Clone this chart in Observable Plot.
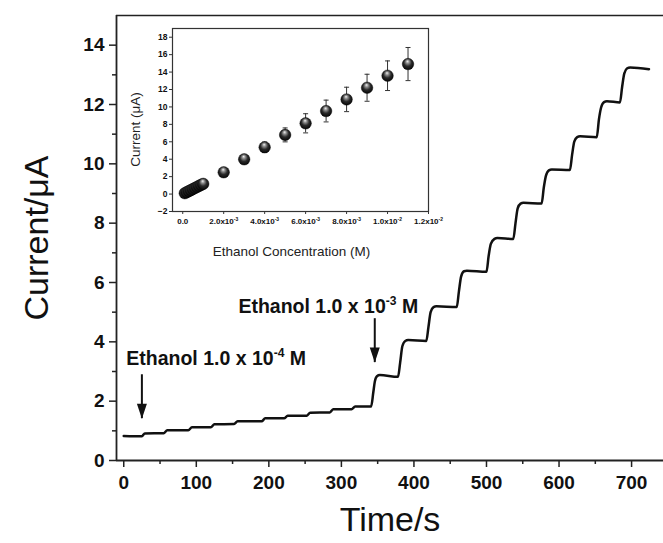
<!DOCTYPE html>
<html><head><meta charset="utf-8">
<script src="https://cdn.jsdelivr.net/npm/d3@7"></script>
<script src="https://cdn.jsdelivr.net/npm/@observablehq/plot@0.6"></script>
<style>
body{margin:0;background:#fff;}
#wrap{position:relative;width:663px;height:543px;overflow:hidden;}
#inset{position:absolute;left:100px;top:20px;}
</style></head><body><div id="wrap"><div id="main"></div><div id="inset"></div></div>
<script>
// ---- main amperometric trace (time in s, current in µA) ----
const timeS = [0, 25, 29, 55, 60, 89, 94, 120, 125, 152, 157, 190, 195, 221, 226, 252, 257, 284, 289, 314, 319, 341,
  344, 346, 349, 353, 378,
  381, 384, 388, 392, 417,
  420, 423, 427, 431, 459,
  462, 465, 469, 473, 500,
  503, 506, 511, 515, 537,
  540, 543, 547, 551, 576,
  579, 582, 586, 590, 615,
  618, 621, 625, 629, 652,
  655, 658, 662, 666, 684,
  687, 690, 694, 698, 724];
const currentUA = [0.83, 0.82, 0.91, 0.92, 1.02, 1.02, 1.12, 1.12, 1.22, 1.23, 1.32, 1.32, 1.42, 1.42, 1.51, 1.51, 1.61, 1.62, 1.73, 1.73, 1.82, 1.82,
  2.30, 2.65, 2.84, 2.88, 2.82,
  3.30, 3.85, 4.03, 4.06, 4.03,
  4.50, 5.00, 5.17, 5.20, 5.17,
  5.70, 6.20, 6.38, 6.40, 6.36,
  6.90, 7.30, 7.47, 7.50, 7.47,
  8.00, 8.50, 8.66, 8.69, 8.66,
  9.20, 9.60, 9.78, 9.81, 9.79,
  10.30, 10.75, 10.90, 10.93, 10.90,
  11.50, 11.90, 12.08, 12.11, 12.07,
  12.60, 13.05, 13.22, 13.25, 13.19];

const xMajorTicks = [0, 100, 200, 300, 400, 500, 600, 700];
const xMinorTicks = [50, 150, 250, 350, 450, 550, 650];
const yMajorTicks = [0, 2, 4, 6, 8, 10, 12, 14];
const yMinorTicks = [1, 3, 5, 7, 9, 11, 13];

// annotations (superscripts written with ^{...})
const annotationLabels = ["Ethanol 1.0 x 10^{-4} M", "Ethanol 1.0 x 10^{-3} M"];
const annotationT = [3.5, 158];
const annotationI = [3.43, 5.18];
const arrowT = [25, 346];
const arrowFromI = [2.89, 4.78];
const arrowToI = [1.41, 3.30];

// ---- inset: calibration ----
const insetConcM = [0.0001, 0.0002, 0.0003, 0.0004, 0.0005, 0.0006, 0.0007, 0.0008, 0.0009, 0.001,
  0.002, 0.003, 0.004, 0.005, 0.006, 0.007, 0.008, 0.009, 0.010, 0.011];
const insetCurrent = [0.10, 0.22, 0.34, 0.46, 0.58, 0.70, 0.82, 0.94, 1.06, 1.17,
  2.50, 3.99, 5.37, 6.79, 8.12, 9.53, 10.86, 12.20, 13.58, 14.92];
const insetError = [0.05, 0.05, 0.05, 0.05, 0.05, 0.05, 0.05, 0.05, 0.05, 0.05,
  0.20, 0.25, 0.60, 0.80, 1.10, 1.25, 1.40, 1.55, 1.70, 1.90];
const insetXTicks = [0, 0.002, 0.004, 0.006, 0.008, 0.010, 0.012];
const insetXTickLabels = ["0.0", "2.0x10^{-3}", "4.0x10^{-3}", "6.0x10^{-3}", "8.0x10^{-3}", "1.0x10^{-2}", "1.2x10^{-2}"];
const insetYTicks = [-2, 0, 2, 4, 6, 8, 10, 12, 14, 16, 18];

const FONT = '"Liberation Sans", Arial, Helvetica, sans-serif';
const INK = "#111";

const mainData = timeS.map((t, i) => ({t, I: currentUA[i]}));
const annData = annotationLabels.map((s, i) => ({s, t: annotationT[i], I: annotationI[i]}));
const arrowData = arrowT.map((t, i) => ({t, y1: arrowFromI[i], y2: arrowToI[i]}));
const arrowHead = {draw(ctx) { ctx.moveTo(0, 0); ctx.lineTo(-5, -15); ctx.lineTo(5, -15); ctx.closePath(); }};

const main = Plot.plot({
  width: 663, height: 543,
  marginLeft: 116, marginRight: 0, marginTop: 15, marginBottom: 83,
  x: {domain: [-10, 744], label: null},
  y: {domain: [0, 15], label: null},
  style: {fontFamily: FONT, background: "transparent", color: INK, overflow: "visible"},
  marks: [
    Plot.ruleY([15], {stroke: "#222", strokeWidth: 1.5}),
    Plot.axisX(xMinorTicks, {tickSize: 4, tickFormat: () => "", stroke: "#222", strokeWidth: 1.5, label: null}),
    Plot.axisX(xMajorTicks, {tickSize: 7, tickPadding: 8, fontSize: 19, fontWeight: "bold", stroke: "#222", strokeWidth: 1.5, label: null}),
    Plot.axisY(yMinorTicks, {tickSize: 4, tickFormat: () => "", stroke: "#222", strokeWidth: 1.5, label: null}),
    Plot.axisY(yMajorTicks, {tickSize: 7, tickPadding: 5, fontSize: 19, fontWeight: "bold", stroke: "#222", strokeWidth: 1.5, label: null}),
    Plot.ruleX([-10], {stroke: "#222", strokeWidth: 1.8}),
    Plot.ruleY([0], {stroke: "#222", strokeWidth: 1.8}),
    Plot.line(mainData, {x: "t", y: "I", curve: "monotone-x", stroke: INK, strokeWidth: 2.5}),
    Plot.ruleX(arrowData, {x: "t", y1: "y1", y2: "y2", stroke: INK, strokeWidth: 2}),
    Plot.dot(arrowData, {x: "t", y: "y2", symbol: arrowHead, fill: INK, stroke: "none", r: 5}),
    Plot.text(annData, {x: "t", y: "I", text: "s", textAnchor: "start", fontSize: 19.5, fontWeight: "bold", fill: INK}),
    Plot.text(["Current/\u03BCA"], {frameAnchor: "left", dx: -79, rotate: -90, textAnchor: "middle", lineAnchor: "middle", fontSize: 34, fill: INK}),
    Plot.text(["Time/s"], {frameAnchor: "bottom", dy: 60, textAnchor: "middle", lineAnchor: "middle", fontSize: 34, fill: INK})
  ]
});
document.getElementById("main").appendChild(main);

const insetData = insetConcM.map((c, i) => ({c, I: insetCurrent[i], e: insetError[i]}));
const capSym = {draw(ctx) { ctx.moveTo(-2.5, 0); ctx.lineTo(2.5, 0); }};
const inset = Plot.plot({
  width: 330, height: 245,
  marginLeft: 72, marginRight: 2, marginTop: 8, marginBottom: 54,
  x: {domain: [-0.0005, 0.012], label: null},
  y: {domain: [-2, 19], label: null},
  style: {fontFamily: FONT, background: "transparent", color: INK, overflow: "visible"},
  marks: [
    Plot.frame({stroke: "#333", strokeWidth: 1.2}),
    Plot.axisX(insetXTicks, {tickSize: 3, tickPadding: 4, tickFormat: d => insetXTickLabels[insetXTicks.indexOf(d)], fontSize: 8, fontWeight: "bold", stroke: "#333", label: null}),
    Plot.axisY(insetYTicks, {tickSize: 3, tickPadding: 2, fontSize: 8.5, fontWeight: "bold", stroke: "#333", label: null}),
    Plot.ruleX(insetData, {x: "c", y1: d => d.I - d.e, y2: d => d.I + d.e, stroke: "#333", strokeWidth: 1}),
    Plot.dot(insetData, {x: "c", y: d => d.I - d.e, symbol: capSym, stroke: "#333", strokeWidth: 1}),
    Plot.dot(insetData, {x: "c", y: d => d.I + d.e, symbol: capSym, stroke: "#333", strokeWidth: 1}),
    Plot.dot(insetData, {x: "c", y: "I", r: 5.8, fill: "url(#sphere)", stroke: "#000", strokeWidth: 0.4}),
    Plot.text(["Current (\u03BCA)"], {frameAnchor: "left", dx: -37, dy: 9.5, rotate: -90, textAnchor: "middle", lineAnchor: "middle", fontSize: 13.5, fill: "#222"}),
    Plot.text(["Ethanol Concentration (M)"], {frameAnchor: "bottom", dx: -9, dy: 40, textAnchor: "middle", lineAnchor: "middle", fontSize: 13.5, fill: "#222"})
  ]
});
const grad = d3.select(inset).insert("defs", ":first-child").append("radialGradient")
  .attr("id", "sphere").attr("cx", "50%").attr("cy", "45%").attr("r", "60%").attr("fx", "45%").attr("fy", "25%");
grad.append("stop").attr("offset", "0%").attr("stop-color", "#f2f2f2");
grad.append("stop").attr("offset", "25%").attr("stop-color", "#8a8a8a");
grad.append("stop").attr("offset", "55%").attr("stop-color", "#2a2a2a");
grad.append("stop").attr("offset", "100%").attr("stop-color", "#000");
document.getElementById("inset").appendChild(inset);

// turn "^{..}" into real superscript tspans
function superscripts(svg) {
  d3.select(svg).selectAll("text").each(function () {
    const s = this.textContent;
    const m = s.match(/^(.*?)\^\{([^}]*)\}(.*)$/);
    if (!m) return;
    const fs = parseFloat(getComputedStyle(this).fontSize) || 12;
    const raise = fs * 0.42;
    const sel = d3.select(this);
    sel.text(null);
    sel.append("tspan").text(m[1]);
    sel.append("tspan").attr("dy", -raise).attr("font-size", fs * 0.62).text(m[2]);
    sel.append("tspan").attr("dy", raise).text(m[3]);
  });
}
superscripts(main);
superscripts(inset);
</script></body></html>
